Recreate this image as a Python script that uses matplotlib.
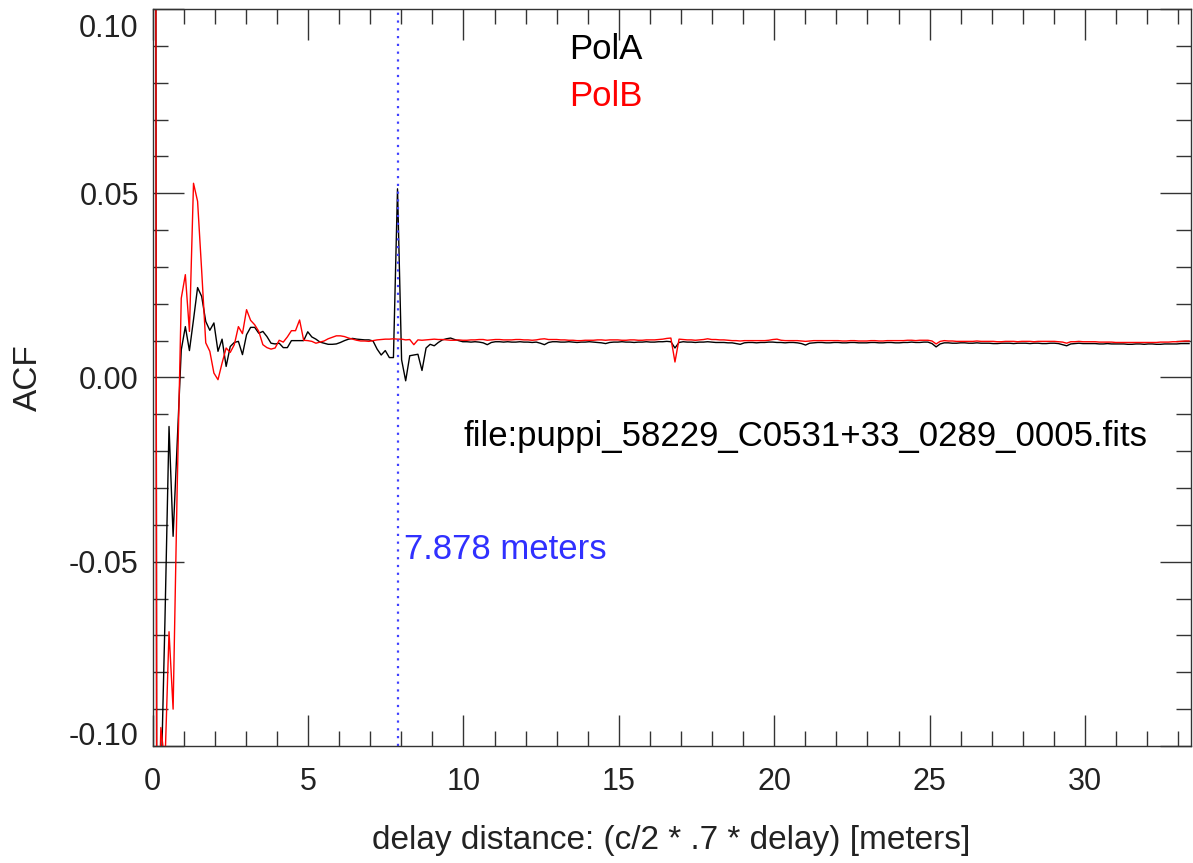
import numpy as np
import matplotlib
matplotlib.use("Agg")
import matplotlib.pyplot as plt
import matplotlib.transforms as mtransforms
from matplotlib.ticker import MultipleLocator

# ---- data ----
lag_spacing_m = 0.1313          # metres per lag
peak_distance = 7.878           # marked delay distance

polA = [
    1.0, -0.150, -0.113, -0.066, -0.0133, -0.0431, -0.0178, 0.0075, 0.0138, 0.0073,
    0.0157, 0.0244, 0.0220, 0.0152, 0.0128, 0.0148, 0.0071, 0.0104, 0.0030, 0.0084,
    0.0095, 0.0098, 0.0062, 0.0116, 0.0136, 0.0136, 0.0120, 0.0125, 0.0111, 0.0093,
    0.0091, 0.0093, 0.0081, 0.0081, 0.0100, 0.0100, 0.0100, 0.0100, 0.0124, 0.0110,
    0.0104, 0.0096, 0.0093, 0.0090, 0.0090, 0.0091, 0.0095, 0.0100, 0.0104, 0.0106,
    0.0104, 0.0103, 0.0102, 0.0102, 0.0099, 0.0077, 0.0061, 0.0073, 0.0054, 0.0054,
    0.0512, 0.0048, -0.0009, 0.0059, 0.0061, 0.0063, 0.0019, 0.0080, 0.0090, 0.0086,
    0.0095, 0.0102, 0.0105, 0.0107, 0.0103, 0.0100, 0.0097, 0.0097, 0.0096, 0.0097,
    0.0096, 0.0094, 0.0089, 0.0095, 0.0097, 0.0097, 0.0096, 0.0097, 0.0096, 0.0096,
    0.0097, 0.0096, 0.0096, 0.0095, 0.0096, 0.0093, 0.0089, 0.0095, 0.0097, 0.0097,
    0.0096, 0.0096, 0.0097, 0.0096, 0.0095, 0.0096, 0.0096, 0.0097, 0.0096, 0.0095,
    0.0094, 0.0092, 0.0095, 0.0096, 0.0096, 0.0097, 0.0096, 0.0096, 0.0095, 0.0096,
    0.0096, 0.0097, 0.0096, 0.0096, 0.0097, 0.0097, 0.0098, 0.0097, 0.0080, 0.0095,
    0.0097, 0.0096, 0.0096, 0.0095, 0.0096, 0.0096, 0.0097, 0.0096, 0.0095, 0.0095,
    0.0095, 0.0094, 0.0094, 0.0092, 0.0090, 0.0094, 0.0095, 0.0095, 0.0094, 0.0095,
    0.0095, 0.0096, 0.0096, 0.0095, 0.0095, 0.0094, 0.0095, 0.0095, 0.0094, 0.0092,
    0.0088, 0.0093, 0.0094, 0.0095, 0.0095, 0.0094, 0.0094, 0.0095, 0.0095, 0.0094,
    0.0094, 0.0095, 0.0095, 0.0094, 0.0094, 0.0094, 0.0095, 0.0095, 0.0094, 0.0094,
    0.0095, 0.0095, 0.0094, 0.0094, 0.0095, 0.0095, 0.0096, 0.0095, 0.0095, 0.0096,
    0.0096, 0.0092, 0.0083, 0.0091, 0.0094, 0.0094, 0.0093, 0.0093, 0.0094, 0.0094,
    0.0093, 0.0093, 0.0094, 0.0093, 0.0093, 0.0093, 0.0092, 0.0092, 0.0093, 0.0093,
    0.0093, 0.0092, 0.0093, 0.0093, 0.0093, 0.0092, 0.0093, 0.0093, 0.0092, 0.0092,
    0.0093, 0.0093, 0.0092, 0.0089, 0.0086, 0.0091, 0.0092, 0.0093, 0.0092, 0.0092,
    0.0092, 0.0092, 0.0091, 0.0091, 0.0092, 0.0091, 0.0091, 0.0091, 0.0091, 0.0090,
    0.0090, 0.0091, 0.0091, 0.0090, 0.0091, 0.0091, 0.0090, 0.0090, 0.0091, 0.0091,
    0.0091, 0.0091, 0.0092, 0.0092, 0.0092,
]

polB = [
    1.0, -0.140, -0.095, -0.105, -0.069, -0.090, -0.030, 0.0215, 0.0279, 0.0125,
    0.0527, 0.0478, 0.0290, 0.0094, 0.0071, 0.0012, -0.0006, 0.0039, 0.0080, 0.0068,
    0.0089, 0.0138, 0.0119, 0.0184, 0.0155, 0.0143, 0.0125, 0.0089, 0.0081, 0.0077,
    0.0080, 0.0101, 0.0096, 0.0110, 0.0127, 0.0127, 0.0156, 0.0101, 0.0100, 0.0098,
    0.0093, 0.0096, 0.0099, 0.0105, 0.0109, 0.0113, 0.0113, 0.0111, 0.0107, 0.0104,
    0.0101, 0.0099, 0.0099, 0.0098, 0.0100, 0.0102, 0.0103, 0.0104, 0.0104, 0.0105,
    0.0104, 0.0104, 0.0102, 0.0103, 0.0089, 0.0102, 0.0101, 0.0102, 0.0103, 0.0104,
    0.0103, 0.0103, 0.0102, 0.0101, 0.0101, 0.0102, 0.0101, 0.0101, 0.0102, 0.0102,
    0.0103, 0.0103, 0.0101, 0.0102, 0.0103, 0.0103, 0.0102, 0.0102, 0.0102, 0.0103,
    0.0103, 0.0102, 0.0102, 0.0101, 0.0102, 0.0104, 0.0105, 0.0103, 0.0103, 0.0103,
    0.0102, 0.0102, 0.0101, 0.0101, 0.0100, 0.0100, 0.0101, 0.0101, 0.0101, 0.0102,
    0.0102, 0.0101, 0.0102, 0.0102, 0.0102, 0.0101, 0.0101, 0.0102, 0.0102, 0.0101,
    0.0101, 0.0102, 0.0102, 0.0102, 0.0103, 0.0104, 0.0106, 0.0107, 0.0042, 0.0104,
    0.0103, 0.0102, 0.0102, 0.0101, 0.0102, 0.0103, 0.0105, 0.0103, 0.0103, 0.0102,
    0.0102, 0.0101, 0.0100, 0.0100, 0.0099, 0.0100, 0.0100, 0.0100, 0.0100, 0.0100,
    0.0100, 0.0101, 0.0103, 0.0104, 0.0101, 0.0100, 0.0100, 0.0100, 0.0100, 0.0099,
    0.0098, 0.0099, 0.0100, 0.0100, 0.0100, 0.0100, 0.0100, 0.0100, 0.0100, 0.0099,
    0.0099, 0.0100, 0.0100, 0.0099, 0.0099, 0.0099, 0.0100, 0.0100, 0.0099, 0.0099,
    0.0100, 0.0100, 0.0100, 0.0100, 0.0100, 0.0101, 0.0101, 0.0100, 0.0101, 0.0101,
    0.0101, 0.0099, 0.0091, 0.0098, 0.0100, 0.0099, 0.0099, 0.0098, 0.0098, 0.0098,
    0.0098, 0.0098, 0.0099, 0.0098, 0.0098, 0.0098, 0.0098, 0.0097, 0.0097, 0.0098,
    0.0098, 0.0098, 0.0097, 0.0098, 0.0098, 0.0098, 0.0097, 0.0098, 0.0098, 0.0098,
    0.0098, 0.0098, 0.0097, 0.0096, 0.0093, 0.0097, 0.0097, 0.0098, 0.0097, 0.0097,
    0.0097, 0.0097, 0.0096, 0.0096, 0.0096, 0.0096, 0.0095, 0.0095, 0.0095, 0.0095,
    0.0095, 0.0095, 0.0095, 0.0095, 0.0095, 0.0095, 0.0095, 0.0096, 0.0096, 0.0096,
    0.0097, 0.0097, 0.0098, 0.0099, 0.0099,
]

x_ticks = [0, 5, 10, 15, 20, 25, 30]
y_ticks = [-0.10, -0.05, 0.00, 0.05, 0.10]
y_ticklabels = ["-0.10", "-0.05", "0.00", "0.05", "0.10"]
file_label = "file:puppi_58229_C0531+33_0289_0005.fits"

# ---- figure ----
plt.rcParams['font.family'] = ['Liberation Sans', 'DejaVu Sans']
fig = plt.figure(figsize=(11.93, 8.63), dpi=100)
ax = fig.add_axes([0.128, 0.1356, 0.870, 0.854])

xa = np.arange(len(polA)) * lag_spacing_m
xb = np.arange(len(polB)) * lag_spacing_m
ax.plot(xa, polA, color='black', lw=1.0)
ax.plot(xb, polB, color='#ff0000', lw=1.0)
ax.axvline(peak_distance, color='#4040ff', lw=1.6, linestyle=(0, (1, 2.5)))

ax.set_xlim(0, 33.4)
ax.set_ylim(-0.10, 0.10)
ax.set_xticks(x_ticks)
ax.set_xticklabels([str(t) for t in x_ticks])
ax.set_yticks(y_ticks)
ax.set_yticklabels(y_ticklabels)
ax.xaxis.set_minor_locator(MultipleLocator(1))
ax.yaxis.set_minor_locator(MultipleLocator(0.01))
ax.tick_params(which='both', direction='in', top=True, right=True,
               color='#333333', width=1.0, labelsize=22, labelcolor='#222222')
ax.tick_params(which='major', length=22)
ax.tick_params(which='minor', length=11)
ax.tick_params(axis='x', which='major', pad=15)
ax.tick_params(axis='y', which='major', pad=10)
for s in ax.spines.values():
    s.set_color('#333333')
    s.set_linewidth(1.0)

# keep extreme y labels inside the frame, as in the original
yt = ax.yaxis.get_major_ticks()
yt[-1].label1.set_verticalalignment('top')
yt[-1].label1.set_transform(yt[-1].label1.get_transform() +
                            mtransforms.ScaledTranslation(0, -5 / 100, fig.dpi_scale_trans))
yt[0].label1.set_verticalalignment('bottom')
yt[0].label1.set_transform(yt[0].label1.get_transform() +
                           mtransforms.ScaledTranslation(0, -6 / 100, fig.dpi_scale_trans))

ax.set_xlabel("delay distance: (c/2 * .7 * delay) [meters]", fontsize=24,
              color='#222222', labelpad=20)
ax.set_ylabel("ACF", fontsize=24, color='#222222', labelpad=18)

ax.text(13.39, 0.0889, "PolA", color='black', fontsize=25, va='center', ha='left')
ax.text(13.39, 0.0762, "PolB", color='#ff0000', fontsize=25, va='center', ha='left')
ax.text(10.01, -0.0161, file_label, color='black', fontsize=25, va='center', ha='left')
ax.text(8.08, -0.0467, "%.3f meters" % peak_distance, color='#3030ff', fontsize=25,
        va='center', ha='left')

fig.savefig("out.png", dpi=100)
